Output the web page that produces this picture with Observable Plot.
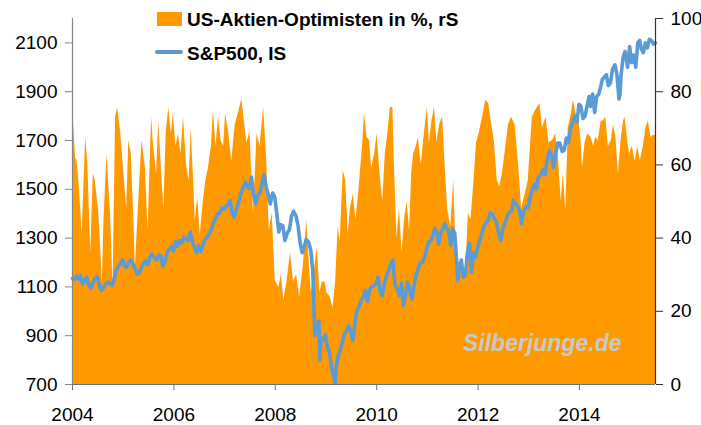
<!DOCTYPE html>
<html><head><meta charset="utf-8">
<script src="https://cdn.jsdelivr.net/npm/d3@7"></script>
<script src="https://cdn.jsdelivr.net/npm/@observablehq/plot@0.6"></script>
<style>
html,body{margin:0;padding:0;background:#fff;}
#wrap{position:relative;width:701px;height:425px;font-family:"Liberation Sans",Arial,sans-serif;}
#wrap svg{display:block;}
.leg{position:absolute;font-weight:bold;font-size:19px;line-height:19px;color:#000;white-space:nowrap;}
.sw{position:absolute;}
.wm{position:absolute;font-weight:bold;font-style:italic;font-size:23px;line-height:23px;color:#c9c9c9;white-space:nowrap;}
</style></head><body>
<div id="wrap"></div>
<script>
// US-Aktien-Optimisten in % (right scale)
const optYear = [2004.00,2004.06,2004.09,2004.14,2004.19,2004.26,2004.30,2004.36,2004.41,2004.45,2004.52,2004.59,2004.62,2004.68,2004.75,2004.80,2004.85,2004.89,2004.95,
2005.01,2005.07,2005.11,2005.16,2005.21,2005.24,2005.31,2005.37,2005.44,2005.49,2005.56,2005.60,2005.66,2005.70,2005.75,2005.80,2005.85,2005.90,2005.95,2005.99,
2006.04,2006.09,2006.14,2006.19,2006.25,2006.30,2006.34,2006.39,2006.42,2006.47,2006.52,2006.58,2006.63,2006.68,2006.74,2006.78,2006.83,2006.88,2006.93,2006.98,
2007.02,2007.08,2007.14,2007.21,2007.27,2007.34,2007.39,2007.44,2007.50,2007.57,2007.64,2007.70,2007.77,2007.83,2007.88,2007.94,
2008.00,2008.07,2008.12,2008.17,2008.23,2008.30,2008.36,2008.42,2008.48,2008.55,2008.62,2008.67,2008.71,2008.78,2008.83,2008.88,2008.93,2008.98,
2009.02,2009.08,2009.14,2009.19,2009.24,2009.28,2009.34,2009.39,2009.44,2009.48,2009.54,2009.59,2009.65,2009.72,2009.76,2009.81,2009.86,2009.90,2009.96,
2010.01,2010.06,2010.12,2010.17,2010.22,2010.27,2010.32,2010.35,2010.40,2010.45,2010.50,2010.55,2010.60,2010.65,2010.69,2010.73,2010.78,2010.82,2010.88,2010.94,
2011.00,2011.04,2011.09,2011.14,2011.19,2011.24,2011.30,2011.35,2011.40,2011.46,2011.52,2011.57,2011.63,2011.70,2011.76,2011.81,2011.86,2011.92,2011.97,
2012.02,2012.09,2012.15,2012.21,2012.27,2012.32,2012.38,2012.43,2012.48,2012.53,2012.60,2012.66,2012.73,2012.80,2012.86,2012.93,2012.99,
2013.07,2013.14,2013.22,2013.27,2013.34,2013.40,2013.47,2013.53,2013.59,2013.64,2013.68,2013.73,2013.78,2013.84,2013.88,2013.95,2013.99,
2014.03,2014.06,2014.11,2014.16,2014.23,2014.28,2014.32,2014.37,2014.43,2014.47,2014.52,2014.57,2014.63,2014.67,2014.72,2014.77,2014.82,2014.87,2014.90,2014.95,2014.99,
2015.04,2015.10,2015.15,2015.20,2015.26,2015.31,2015.36,2015.41,2015.46,2015.50];
const optPct = [77,62,61,53,41,67.5,61,36,57.6,55.7,46.7,28,44.8,63,46.7,26.5,73,75.7,69,
58.5,48,66.7,63,45,32,51,66.7,59,42,73,65,57.6,72,60,48,69,75.7,68.5,74,
65,68.5,63,73,60,55.7,70,55.7,44.8,51,41,50,55.7,59,65,75,65,73,66.7,65,
74,69,61,71,74,78,72,66,69,46.7,68.5,65,75.7,62,42,46.7,
28.4,26.5,30,23,28,36,28,30,24,32,45,33,25,32,37.5,25,28,28,
25,24,21,28,43,39,58.5,55.7,41,48,52,45,53,65,74,67.5,66.7,59,63,
68.5,58.5,50,63,68.5,75.7,75.7,60,40,48,36,45,50,42,57.6,63,65,67.5,60,68.5,
75.7,66,72,75.7,66,71,73,60,48,43,55.7,34,32,30,32,46.7,45,55.7,66,
68.5,73,77.6,76.8,71,66.7,55.7,54,57.6,63,71,73,71,60,48,52,55.7,
73,75,76.8,70,73,66,66.7,68.5,61,50,57.6,47.5,70,74,77.6,73,72,
66.7,59,66,68.5,67.5,65,67.5,66.7,72,72,73,65,66.7,71,67.5,57.6,66.7,72,73,66.7,63,
65,61,65,61,65,70,72,67.5,68,68];

// S&P500 (left scale)
const spxYear = [2004.00,2004.04,2004.08,2004.12,2004.16,2004.20,2004.24,2004.28,2004.32,2004.37,2004.41,2004.45,2004.49,2004.53,2004.57,2004.61,2004.65,2004.70,2004.74,2004.78,2004.82,2004.86,2004.90,2004.94,2004.99,
2005.03,2005.07,2005.11,2005.15,2005.19,2005.24,2005.28,2005.32,2005.36,2005.41,2005.45,2005.49,2005.53,2005.57,2005.61,2005.66,2005.70,2005.74,2005.78,2005.82,2005.86,2005.90,2005.95,2005.99,
2006.03,2006.07,2006.11,2006.15,2006.20,2006.24,2006.28,2006.32,2006.36,2006.41,2006.45,2006.49,2006.53,2006.57,2006.61,2006.66,2006.70,2006.74,2006.78,2006.82,2006.86,2006.90,2006.95,2006.99,
2007.03,2007.07,2007.11,2007.15,2007.19,2007.24,2007.28,2007.32,2007.36,2007.41,2007.45,2007.49,2007.53,2007.57,2007.61,2007.65,2007.70,2007.74,2007.78,2007.82,2007.86,2007.90,2007.95,2007.99,
2008.03,2008.07,2008.11,2008.15,2008.19,2008.24,2008.28,2008.32,2008.36,2008.41,2008.45,2008.49,2008.53,2008.57,2008.61,2008.66,2008.70,2008.74,2008.78,2008.82,2008.86,2008.88,2008.90,2008.94,2008.99,
2009.03,2009.07,2009.11,2009.15,2009.18,2009.20,2009.24,2009.28,2009.32,2009.36,2009.41,2009.45,2009.49,2009.53,2009.57,2009.61,2009.66,2009.70,2009.74,2009.78,2009.82,2009.86,2009.90,2009.95,2009.99,
2010.03,2010.07,2010.11,2010.15,2010.20,2010.24,2010.28,2010.32,2010.36,2010.41,2010.45,2010.49,2010.53,2010.57,2010.61,2010.66,2010.70,2010.74,2010.78,2010.82,2010.86,2010.90,2010.95,2010.99,
2011.03,2011.07,2011.11,2011.15,2011.19,2011.22,2011.26,2011.30,2011.34,2011.38,2011.42,2011.46,2011.50,2011.54,2011.58,2011.60,2011.63,2011.67,2011.71,2011.75,2011.79,2011.83,2011.87,2011.91,2011.95,2011.99,
2012.03,2012.07,2012.11,2012.15,2012.19,2012.24,2012.28,2012.32,2012.36,2012.41,2012.45,2012.49,2012.53,2012.57,2012.61,2012.66,2012.70,2012.74,2012.78,2012.82,2012.86,2012.90,2012.95,2012.99,
2013.03,2013.07,2013.11,2013.15,2013.19,2013.24,2013.28,2013.32,2013.36,2013.41,2013.45,2013.49,2013.53,2013.57,2013.61,2013.66,2013.70,2013.74,2013.78,2013.82,2013.86,2013.90,2013.95,2013.99,
2014.03,2014.07,2014.11,2014.15,2014.19,2014.22,2014.26,2014.30,2014.34,2014.38,2014.42,2014.45,2014.49,2014.53,2014.57,2014.61,2014.65,2014.70,2014.74,2014.78,2014.80,2014.82,2014.86,2014.90,2014.95,2014.99,
2015.03,2015.07,2015.11,2015.15,2015.19,2015.22,2015.26,2015.30,2015.34,2015.38,2015.42,2015.46,2015.50];
const spxVal = [1135,1130,1145,1132,1145,1110,1126,1140,1107,1095,1121,1135,1141,1106,1085,1096,1110,1120,1115,1105,1130,1165,1182,1195,1212,
1185,1181,1201,1210,1195,1172,1152,1157,1180,1198,1208,1191,1225,1234,1220,1210,1230,1229,1185,1200,1235,1255,1265,1248,
1285,1265,1290,1280,1305,1295,1290,1325,1290,1260,1240,1270,1245,1270,1295,1304,1320,1336,1365,1378,1400,1401,1425,1418,
1430,1438,1455,1400,1387,1421,1450,1482,1505,1530,1510,1503,1550,1480,1440,1474,1485,1527,1560,1510,1480,1440,1485,1468,
1400,1325,1355,1350,1290,1322,1335,1390,1410,1390,1350,1280,1240,1265,1295,1283,1250,1165,900,940,960,800,890,880,903,
850,830,770,735,705,770,815,840,870,905,920,940,920,880,950,1000,1025,1045,1060,1085,1040,1090,1100,1105,1115,
1140,1080,1065,1110,1150,1170,1195,1210,1110,1090,1065,1115,1025,1065,1120,1080,1050,1110,1150,1175,1200,1200,1225,1258,
1285,1290,1310,1340,1320,1275,1320,1335,1360,1340,1330,1270,1340,1320,1200,1125,1180,1210,1140,1150,1240,1280,1160,1240,1220,1258,
1290,1315,1345,1360,1370,1405,1400,1380,1370,1315,1290,1340,1360,1385,1405,1410,1455,1440,1430,1410,1360,1410,1430,1426,
1470,1500,1520,1500,1550,1560,1580,1560,1615,1660,1640,1590,1640,1690,1690,1655,1660,1710,1690,1745,1770,1800,1775,1848,
1840,1790,1800,1840,1880,1840,1890,1815,1880,1890,1920,1950,1960,1970,1925,1935,1990,2010,1970,1870,1890,1965,2040,2065,2000,2085,
2020,2050,2000,2100,2110,2075,2060,2100,2080,2115,2110,2095,2100];

const leftTicks = [700,900,1100,1300,1500,1700,1900,2100];
const rightTicks = [0,20,40,60,80,100];
const xTicks = [2004,2006,2008,2010,2012,2014];
const legendLabels = ["US-Aktien-Optimisten in %, rS","S&P500, IS"];
const watermark = "Silberjunge.de";

const L0 = 700, L1 = 2200;
const toR = v => (v - L0) / (L1 - L0) * 100;
const fromR = r => L0 + r / 100 * (L1 - L0);

const opt = optYear.map((x,i) => ({x, y: optPct[i]}));
const spx = spxYear.map((x,i) => ({x, v: spxVal[i]}));

const xMin = 2004, xMax = 2015.5;

const chart = Plot.plot({
  width: 701, height: 425,
  marginLeft: 72, marginRight: 46, marginTop: 18, marginBottom: 41,
  style: {fontFamily: "'Liberation Sans', Arial, sans-serif", fontSize: "19px", background: "#fff", color: "#000"},
  x: {domain: [xMin, xMax], label: null},
  y: {domain: [0, 100], label: null},
  marks: [
    Plot.areaY(opt, {x: "x", y: "y", fill: "#ff9900"}),
    Plot.line(spx, {x: "x", y: d => toR(d.v), stroke: "#5b9bd5", strokeWidth: 3.6, strokeLinejoin: "round"}),
    Plot.ruleX([xMin], {stroke: "#868686", strokeWidth: 1.2}),
    Plot.ruleX([xMax], {stroke: "#333", strokeWidth: 1.2}),
    Plot.ruleY([0], {stroke: "#5b7391", strokeWidth: 1.2}),
    Plot.axisY(rightTicks, {anchor: "right", tickSize: 7, tickPadding: 8, fontSize: 19, stroke: "#333", fill: "#000", label: null}),
    Plot.axisY(leftTicks.map(toR), {anchor: "left", tickSize: 7, tickPadding: 8, fontSize: 19, stroke: "#868686", fill: "#000", label: null,
      tickFormat: d => String(Math.round(fromR(d)))}),
    Plot.axisX(xTicks, {anchor: "bottom", tickSize: 6, tickPadding: 17, fontSize: 19, stroke: "#5b7391", fill: "#000", label: null,
      tickFormat: d => String(d)})
  ]
});
const wrap = document.getElementById("wrap");
wrap.appendChild(chart);

function add(cls, css, text) {
  const d = document.createElement("div");
  d.className = cls;
  Object.assign(d.style, css);
  if (text) d.textContent = text;
  wrap.appendChild(d);
}
add("sw", {left: "157px", top: "12px", width: "25px", height: "14px", background: "#ff9900"});
add("leg", {left: "187px", top: "10px"}, legendLabels[0]);
add("sw", {left: "155px", top: "50px", width: "28px", height: "3.6px", background: "#5b9bd5", borderRadius: "2px"});
add("leg", {left: "187px", top: "44px"}, legendLabels[1]);
add("wm", {left: "463px", top: "332px"}, watermark);
</script>
</body></html>
